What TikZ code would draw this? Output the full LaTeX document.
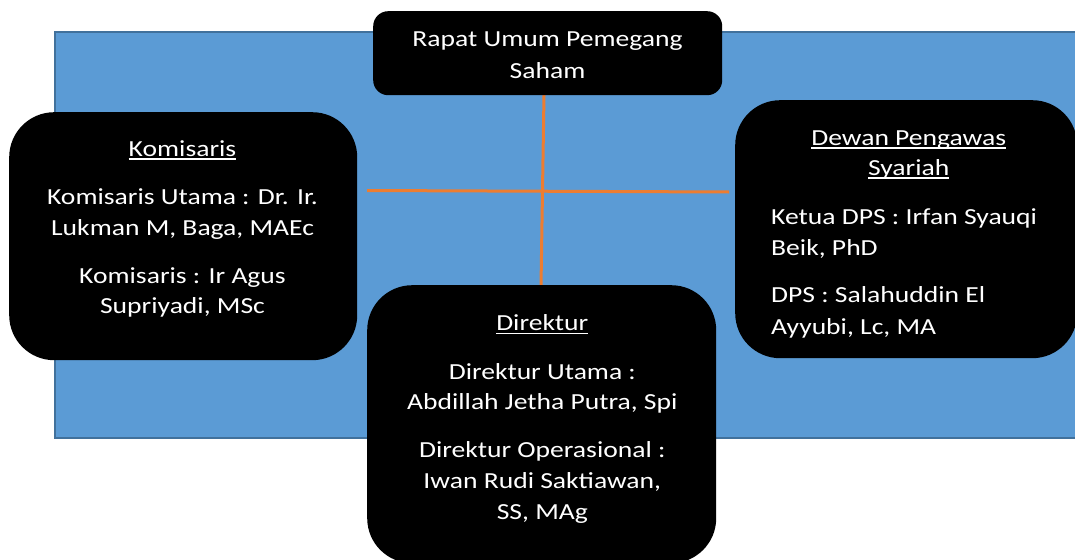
\documentclass[tikz,border=0pt]{standalone}
\usepackage{fontspec}
\setmainfont{Carlito}[FakeStretch=1.2]
\newcommand{\myul}[1]{\setbox0\hbox{#1}\rlap{\rule[-3.6pt]{\wd0}{1.5pt}}\box0}
\definecolor{bgblue}{HTML}{5B9BD5}
\definecolor{bgedge}{HTML}{41719C}
\definecolor{linkor}{HTML}{ED7D31}
\tikzset{
  blackbox/.style={rectangle, fill=black, draw=none, inner sep=0, anchor=north west},
  txt/.style={anchor=base, inner sep=0, text=white, font=\fontsize{23}{30}\selectfont},
  txtl/.style={anchor=base west, inner sep=0, text=white, font=\fontsize{23}{30}\selectfont},
  link/.style={draw=linkor, line width=3pt}
}
\begin{document}
\begin{tikzpicture}[x=1pt,y=-1pt]
\useasboundingbox (0,0) rectangle (1075,559);
\clip (0,0) rectangle (1075,559);
% background panel
\draw[fill=bgblue, draw=bgedge, line width=1.5pt] (55,32) rectangle (1095,438);
% connectors
\coordinate (vt) at (544,95);
\coordinate (vb) at (541,286);
\coordinate (hl) at (367,190.5);
\coordinate (hr) at (729,192);
\draw[link] (vt) -- (vb);
\draw[link] (hl) -- (hr);
% boxes
\node (rups) [blackbox, rounded corners=15pt, minimum width=349pt, minimum height=84pt] at (373,11) {};
\node (kom) [blackbox, rounded corners=45pt, minimum width=348pt, minimum height=248pt] at (9,112) {};
\node (dps) [blackbox, rounded corners=45pt, minimum width=342pt, minimum height=258pt] at (735,100) {};
\node (dir) [blackbox, rounded corners=45pt, minimum width=349pt, minimum height=278pt] at (367,285) {};
% RUPS text
\node (r1) [txt] at (547.5,46.7) {Rapat Umum Pemegang};
\node (r2) [txt] at (547.5,78.3) {Saham};
% Komisaris text
\node (k0) [txt] at (182.5,156) {\myul{Komisaris}};
\node (k1) [txt] at (182.5,204) {Komisaris Utama : Dr. Ir.};
\node (k2) [txt] at (182.5,235) {Lukman M, Baga, MAEc};
\node (k3) [txt] at (182.5,283) {Komisaris : Ir Agus};
\node (k4) [txt] at (182.5,313) {Supriyadi, MSc};
% DPS text
\node (d0) [txt] at (908.7,145) {\myul{Dewan Pengawas}};
\node (d1) [txt] at (908.7,175) {\myul{Syariah}};
\node (d2) [txtl] at (771,224) {Ketua DPS : Irfan Syauqi};
\node (d3) [txtl] at (771,255) {Beik, PhD};
\node (d4) [txtl] at (771,302.7) {DPS : Salahuddin El};
\node (d5) [txtl] at (771,334) {Ayyubi, Lc, MA};
% Direktur text
\node (e0) [txt] at (542.3,330.7) {\myul{Direktur}};
\node (e1) [txt] at (542.3,379) {Direktur Utama :};
\node (e2) [txt] at (542.3,409.3) {Abdillah Jetha Putra, Spi};
\node (e3) [txt] at (542.3,457.3) {Direktur Operasional :};
\node (e4) [txt] at (542.3,488.3) {Iwan Rudi Saktiawan,};
\node (e5) [txt] at (542.3,519.3) {SS, MAg};
\end{tikzpicture}
\end{document}
